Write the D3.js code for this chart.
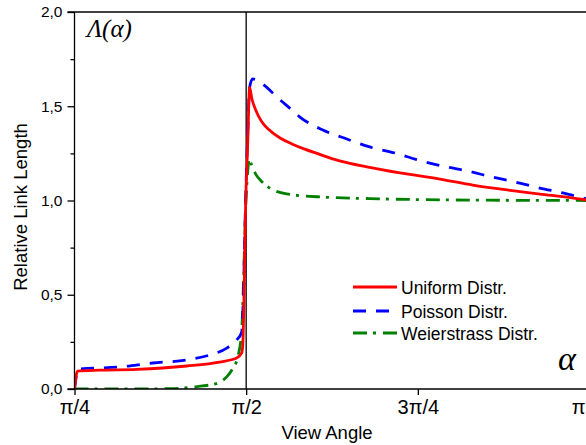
<!DOCTYPE html>
<html>
<head>
<meta charset="utf-8">
<script src="https://cdn.jsdelivr.net/npm/d3@7"></script>
<style>
  html, body { margin: 0; padding: 0; background: #fff; overflow: hidden; }
  svg { display: block; }
</style>
</head>
<body>
<div id="chart"></div>
<script>
// ---- Data (view angle in degrees: 45 = π/4, 90 = π/2, 135 = 3π/4, 180 = π) ----
const xTickValues = [45, 90, 135, 180];
const xTickLabels = ["π/4", "π/2", "3π/4", "π"];
const yTickValues = [0, 0.5, 1.0, 1.5, 2.0];
const yTickLabels = ["0,0", "0,5", "1,0", "1,5", "2,0"];
const yMinorTicks = [0.25, 0.75, 1.25, 1.75];

const seriesNames = ["Uniform Distr.", "Poisson Distr.", "Weierstrass Distr."];

const uniformAngle = [45.0, 45.8, 51.6, 61.3, 74.4, 83.0, 87.5, 88.8, 89.1, 89.35, 89.85, 90.4, 90.9, 91.5, 92.5, 94.0, 96.0, 99.0, 102.0, 105.0, 108.5, 114.5, 121.6, 130.3, 140.8, 149.4, 158.4, 167.0, 175.0, 180.0];
const uniformValue = [0, 0.095, 0.10, 0.104, 0.122, 0.143, 0.164, 0.19, 0.23, 0.40, 0.97, 1.30, 1.60, 1.54, 1.48, 1.42, 1.375, 1.33, 1.30, 1.275, 1.25, 1.21, 1.178, 1.146, 1.114, 1.082, 1.056, 1.034, 1.015, 1.0];

const poissonAngle = [45.0, 46.0, 56.8, 65.5, 74.4, 80.4, 84.9, 87.5, 88.8, 89.2, 89.85, 90.4, 90.9, 91.7, 92.7, 95.4, 98.0, 102.0, 104.0, 110.1, 116.4, 122.4, 129.0, 135.0, 142.6, 147.9, 154.4, 160.5, 167.0, 173.0, 180.0];
const poissonValue = [0, 0.105, 0.117, 0.138, 0.154, 0.18, 0.217, 0.26, 0.30, 0.45, 1.0, 1.35, 1.60, 1.645, 1.64, 1.60, 1.55, 1.48, 1.444, 1.374, 1.326, 1.284, 1.252, 1.215, 1.178, 1.157, 1.125, 1.098, 1.066, 1.04, 1.005];

const weierAngle = [45.0, 60.0, 69.9, 78.6, 82.3, 84.9, 86.5, 87.8, 88.8, 89.35, 89.85, 90.4, 90.8, 91.4, 92.5, 94.1, 96.2, 100.6, 108.5, 122.4, 143.4, 180.0];
const weierValue = [0, 0.0, 0.002, 0.016, 0.03, 0.064, 0.11, 0.17, 0.30, 0.60, 0.95, 1.15, 1.22, 1.19, 1.14, 1.10, 1.066, 1.035, 1.02, 1.01, 1.003, 1.0];

// ---- Layout ----
const W = 586, H = 445;
const x0 = 74.5, x1 = 589.5, yTop = 12, yBot = 389;

const svg = d3.select("#chart").append("svg")
  .attr("width", W).attr("height", H)
  .style("font-family", "'Liberation Sans', Arial, sans-serif");

const x = d3.scaleLinear().domain([45, 180]).range([x0, x1]);
const y = d3.scaleLinear().domain([0, 2]).range([yBot, yTop]);

// curves
const line = d3.line().x(d => x(d[0])).y(d => y(d[1])).curve(d3.curveMonotoneX);
const series = [
  { a: uniformAngle, v: uniformValue, color: "#ff0000", dash: null },
  { a: poissonAngle, v: poissonValue, color: "#0000ff", dash: "13,10" },
  { a: weierAngle,  v: weierValue,  color: "#008000", dash: "14,6,3,7" }
];

svg.append("clipPath").attr("id", "plotclip")
  .append("rect").attr("x", x0).attr("y", yTop - 5).attr("width", x1 - x0 + 5).attr("height", yBot - yTop + 5);

// vertical line at π/2
svg.append("line")
  .attr("x1", x(90)).attr("x2", x(90)).attr("y1", yTop).attr("y2", yBot)
  .attr("stroke", "#000").attr("stroke-width", 1.3);

const gCurves = svg.append("g").attr("clip-path", "url(#plotclip)");
[2, 1, 0].forEach(i => {
  const s = series[i];
  gCurves.append("path")
    .datum(s.a.map((a, k) => [a, s.v[k]]))
    .attr("d", line)
    .attr("fill", "none")
    .attr("stroke", s.color)
    .attr("stroke-width", 2.8)
    .attr("stroke-dasharray", s.dash)
    .attr("stroke-linejoin", "round");
});

// axes
const yAxis = d3.axisLeft(y).tickValues(yTickValues)
  .tickFormat((d, i) => yTickLabels[i]).tickSize(7).tickPadding(5);
const gy = svg.append("g").attr("transform", `translate(${x0},0)`).call(yAxis);
gy.select(".domain").remove();
gy.selectAll("line").attr("stroke-width", 1.3);
gy.selectAll("text").style("font-size", "15.5px").attr("fill", "#000");

const yMinor = d3.axisLeft(y).tickValues(yMinorTicks).tickFormat("").tickSize(4);
const gym = svg.append("g").attr("transform", `translate(${x0},0)`).call(yMinor);
gym.select(".domain").remove();
gym.selectAll("line").attr("stroke-width", 1.3);

const xAxis = d3.axisBottom(x).tickValues(xTickValues)
  .tickFormat((d, i) => xTickLabels[i]).tickSize(6).tickPadding(5);
const gx = svg.append("g").attr("transform", `translate(0,${yBot})`).call(xAxis);
gx.select(".domain").remove();
gx.selectAll("line").attr("stroke-width", 1.3);
gx.selectAll("text").style("font-size", "20px").attr("fill", "#000");
// last label (π) sits on the window edge: keep it inside
gx.selectAll("text").filter(d => d === 180).attr("text-anchor", "end").attr("x", 585 - x(180));

// frame lines
svg.append("line").attr("x1", x0).attr("x2", x0).attr("y1", yTop).attr("y2", yBot)
  .attr("stroke", "#000").attr("stroke-width", 1.3);
svg.append("line").attr("x1", x0 - 7).attr("x2", x1).attr("y1", yBot).attr("y2", yBot)
  .attr("stroke", "#000").attr("stroke-width", 1.3);
svg.append("line").attr("x1", x0 - 7).attr("x2", x1).attr("y1", yTop).attr("y2", yTop)
  .attr("stroke", "#000").attr("stroke-width", 1.3);
svg.append("line").attr("x1", x1).attr("x2", x1).attr("y1", yTop).attr("y2", yBot)
  .attr("stroke", "#000").attr("stroke-width", 1.3);

// axis titles
svg.append("text").attr("x", 327).attr("y", 439)
  .attr("text-anchor", "middle").style("font-size", "18.5px").text("View Angle");
svg.append("text")
  .attr("transform", `translate(27,207) rotate(-90)`)
  .attr("text-anchor", "middle").style("font-size", "18.5px").text("Relative Link Length");

// in-plot labels
svg.append("text").attr("x", 87).attr("y", 37)
  .style("font-family", "'Liberation Serif', 'Times New Roman', serif")
  .style("font-style", "italic").style("font-size", "25px").text("Λ(α)");
svg.append("text").attr("x", 558).attr("y", 370)
  .style("font-family", "'Liberation Serif', 'Times New Roman', serif")
  .style("font-style", "italic").style("font-size", "34px").text("α");

// legend
const legX = 353, legY = [287, 311, 333];
series.forEach((s, i) => {
  svg.append("line")
    .attr("x1", legX).attr("x2", legX + 44)
    .attr("y1", legY[i]).attr("y2", legY[i])
    .attr("stroke", s.color).attr("stroke-width", 2.8)
    .attr("stroke-dasharray", s.dash);
  svg.append("text").attr("x", 401).attr("y", legY[i] + 6.5)
    .style("font-size", "17.5px").text(seriesNames[i]);
});
</script>
</body>
</html>
